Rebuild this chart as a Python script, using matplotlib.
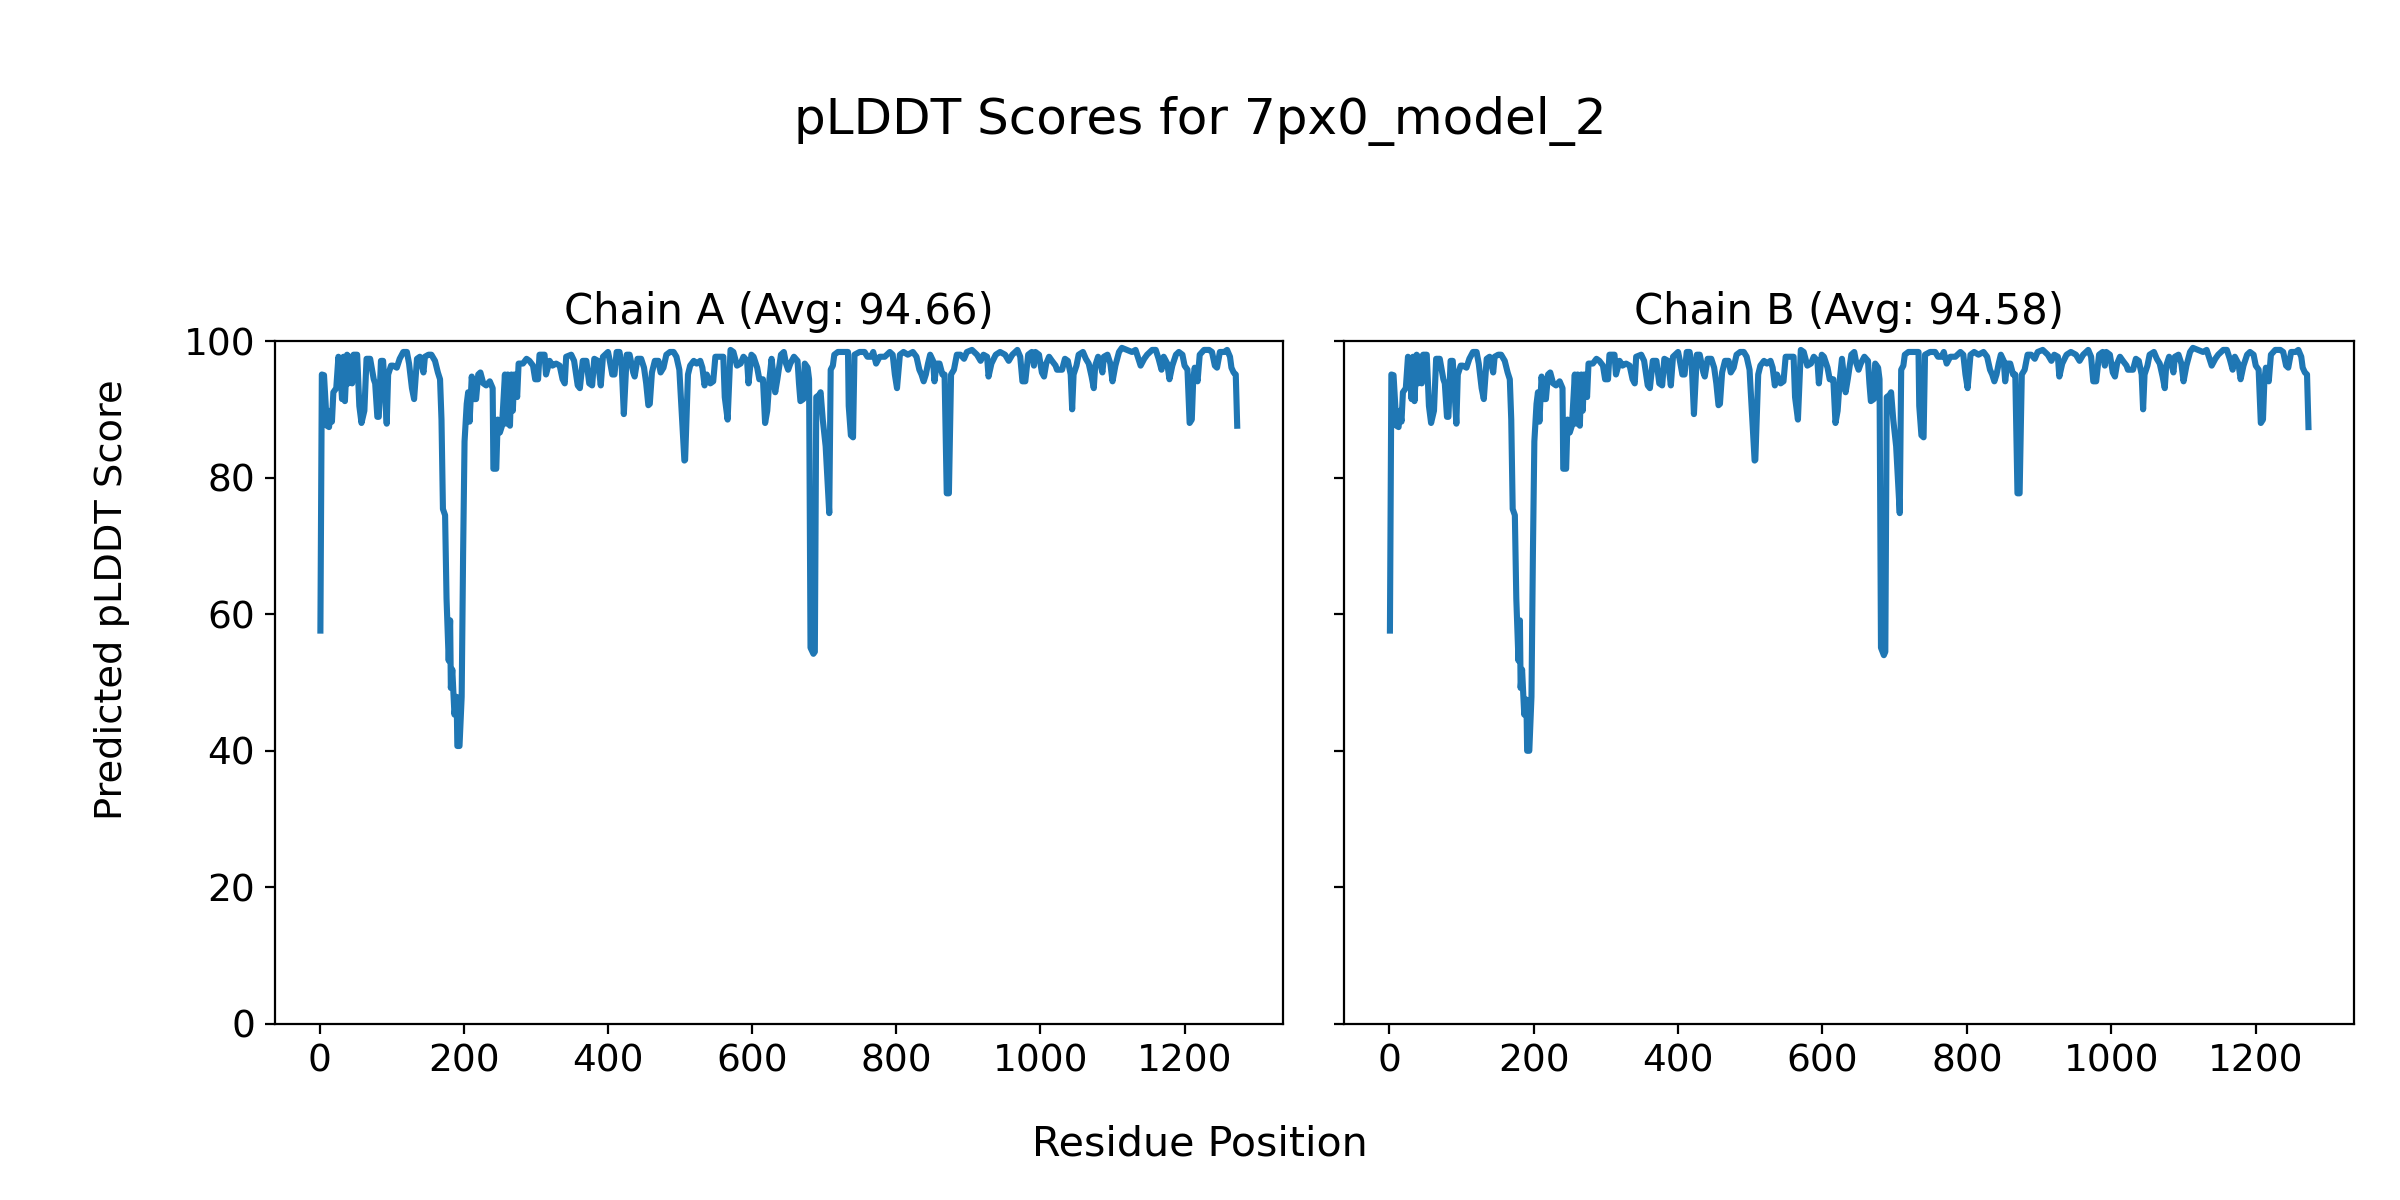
import matplotlib
matplotlib.use("Agg")
import matplotlib.pyplot as plt

MODEL = "7px0_model_2"
CHAINS = ["A", "B"]
AVGS = [94.66, 94.58]

RES = [
    1, 3, 6, 10, 13, 15, 17, 19, 23, 26, 29, 31, 33, 35, 38, 40, 42, 45, 47, 52,
    55, 58, 62, 65, 70, 75, 77, 80, 82, 85, 88, 93, 95, 99, 102, 107, 111, 116, 121, 124,
    128, 131, 135, 139, 144, 146, 151, 155, 160, 164, 167, 169, 171, 174, 176, 179, 181, 182, 184, 187,
    190, 191, 194, 197, 199, 201, 204, 206, 208, 211, 214, 217, 220, 223, 227, 231, 236, 240, 241, 245,
    247, 250, 253, 257, 259, 261, 264, 266, 268, 270, 274, 276, 282, 287, 291, 296, 299, 303, 305, 312,
    314, 319, 323, 328, 333, 337, 340, 342, 349, 353, 358, 361, 365, 370, 374, 378, 381, 386, 390, 393,
    400, 402, 406, 409, 412, 416, 419, 422, 426, 430, 435, 437, 441, 446, 450, 453, 456, 458, 461, 465,
    470, 473, 477, 481, 486, 491, 495, 499, 502, 506, 507, 511, 514, 519, 523, 528, 531, 534, 537, 542,
    546, 549, 553, 560, 562, 566, 570, 574, 579, 584, 588, 593, 595, 599, 602, 607, 610, 615, 618, 621,
    624, 627, 632, 635, 640, 644, 647, 650, 653, 658, 663, 665, 667, 671, 673, 677, 679, 681, 685, 687,
    689, 693, 695, 698, 700, 702, 707, 709, 712, 714, 719, 726, 733, 734, 737, 740, 742, 749, 756, 760,
    765, 768, 772, 777, 784, 791, 795, 798, 801, 805, 810, 816, 823, 828, 832, 835, 838, 841, 844, 847,
    851, 853, 856, 860, 864, 867, 870, 873, 876, 880, 884, 889, 894, 898, 905, 912, 917, 921, 926, 928,
    932, 938, 944, 951, 956, 961, 968, 972, 975, 979, 983, 988, 991, 993, 998, 1002, 1005, 1008, 1012, 1016,
    1021, 1023, 1026, 1030, 1034, 1038, 1042, 1044, 1046, 1050, 1053, 1059, 1063, 1067, 1071, 1074, 1076, 1080, 1083, 1086,
    1088, 1093, 1097, 1100, 1104, 1109, 1113, 1120, 1127, 1132, 1136, 1139, 1144, 1148, 1155, 1160, 1164, 1168, 1171, 1176,
    1179, 1183, 1188, 1192, 1197, 1200, 1204, 1207, 1210, 1212, 1214, 1218, 1221, 1227, 1234, 1238, 1242, 1245, 1249, 1255,
    1259, 1263, 1265, 1268, 1271, 1273,
]

PLDDT_A = [
    57.6, 95.1, 95.0, 87.6, 87.4, 89.8, 88.2, 92.5, 93.1, 97.7, 95.1, 91.5, 97.7, 91.2, 98.0, 93.8, 97.7, 93.8, 98.0, 98.0,
    90.5, 88.0, 89.8, 97.4, 97.4, 94.4, 93.8, 88.9, 88.9, 97.1, 97.1, 87.9, 95.1, 96.4, 96.4, 96.1, 97.4, 98.4, 98.4, 96.7,
    93.1, 91.5, 97.4, 97.7, 95.4, 97.7, 98.0, 98.0, 97.1, 95.4, 94.4, 88.5, 75.4, 74.5, 62.3, 53.2, 59.1, 49.2, 51.9, 45.3,
    47.9, 40.7, 40.7, 47.9, 68.9, 85.3, 90.8, 92.5, 88.2, 94.8, 91.5, 91.5, 95.1, 95.4, 93.8, 93.5, 94.1, 93.1, 81.3, 81.3,
    88.5, 86.6, 87.6, 95.1, 87.9, 95.1, 87.6, 95.1, 89.8, 95.1, 91.8, 96.7, 96.7, 97.4, 97.1, 96.4, 94.4, 94.4, 98.0, 98.0,
    95.1, 97.1, 96.4, 96.7, 96.4, 94.4, 93.8, 97.7, 98.0, 97.1, 93.5, 93.1, 97.1, 97.1, 93.8, 93.5, 97.4, 97.1, 93.5, 97.7,
    98.4, 97.4, 95.1, 95.1, 98.4, 98.4, 96.4, 89.3, 98.0, 98.0, 95.4, 94.8, 97.4, 97.4, 96.1, 93.8, 90.6, 90.8, 95.4, 97.1,
    97.1, 95.4, 96.1, 98.0, 98.4, 98.4, 97.7, 95.8, 90.2, 82.5, 82.6, 95.1, 96.4, 97.1, 96.7, 97.1, 96.1, 93.5, 95.1, 93.8,
    94.1, 97.7, 97.7, 97.7, 91.8, 88.5, 98.7, 98.4, 96.4, 96.7, 97.7, 97.1, 93.8, 98.0, 97.7, 96.1, 94.4, 94.4, 88.0, 89.8,
    94.4, 97.4, 92.5, 94.4, 98.0, 98.4, 96.7, 95.8, 96.7, 97.7, 97.1, 93.8, 91.2, 91.5, 96.7, 96.1, 94.4, 55.1, 54.2, 54.5,
    91.8, 92.1, 92.5, 88.5, 86.6, 84.6, 74.8, 95.8, 96.4, 98.0, 98.4, 98.4, 98.4, 90.5, 86.2, 85.9, 98.0, 98.4, 98.4, 97.7,
    97.7, 98.4, 96.7, 97.7, 97.7, 98.4, 98.0, 95.1, 93.1, 98.0, 98.4, 98.0, 98.4, 97.7, 95.8, 95.1, 94.1, 95.1, 96.7, 98.0,
    97.1, 94.1, 96.7, 96.7, 95.1, 95.1, 77.7, 77.7, 95.1, 95.8, 98.0, 98.0, 97.4, 98.4, 98.7, 98.0, 97.1, 98.0, 97.7, 94.8,
    96.7, 98.0, 98.4, 98.0, 97.1, 98.0, 98.7, 97.7, 94.1, 94.1, 98.0, 98.4, 96.4, 98.4, 98.0, 95.4, 94.8, 96.7, 97.7, 97.1,
    96.4, 95.8, 95.8, 95.8, 97.4, 97.1, 95.1, 90.0, 95.1, 96.4, 98.0, 98.4, 97.4, 96.7, 94.8, 93.1, 96.4, 97.7, 96.7, 95.4,
    97.7, 98.0, 96.7, 94.1, 96.4, 98.4, 99.0, 98.7, 98.4, 98.7, 97.4, 96.4, 97.4, 98.0, 98.7, 98.7, 97.4, 95.8, 97.7, 96.7,
    94.4, 96.4, 98.0, 98.4, 98.0, 96.4, 95.8, 88.0, 88.5, 94.4, 96.1, 94.1, 98.0, 98.7, 98.7, 98.4, 96.4, 96.1, 98.4, 98.4,
    98.7, 97.7, 96.1, 95.4, 95.1, 87.6,
]

# chain B is nearly the same; only the points that visibly differ are listed
B_DIFFS = {190: 47.5, 191: 40.0, 194: 40.0, 685: 54.0, 1273: 87.4}
PLDDT_B = [B_DIFFS.get(r, v) for r, v in zip(RES, PLDDT_A)]

fig = plt.figure(figsize=(12, 6), dpi=200)
ax_a = fig.add_axes([0.1144, 0.1467, 0.4202, 0.5691])
ax_b = fig.add_axes([0.5600, 0.1467, 0.4210, 0.5691], sharey=ax_a)

for ax, chain, avg, scores in zip([ax_a, ax_b], CHAINS, AVGS, [PLDDT_A, PLDDT_B]):
    ax.plot(RES, scores, color="#1f77b4", linewidth=2.2)
    ax.set_title(f"Chain {chain} (Avg: {avg:.2f})", fontsize=15)
    ax.set_ylim(0, 100)
    ax.set_xticks([0, 200, 400, 600, 800, 1000, 1200])
    ax.tick_params(labelsize=13.5)

ax_b.tick_params(labelleft=False)

fig.suptitle(f"pLDDT Scores for {MODEL}", fontsize=18, y=0.92)
fig.supxlabel("Residue Position", fontsize=14.8, y=0.03)
fig.supylabel("Predicted pLDDT Score", fontsize=13.8, x=0.039)

fig.savefig("out.png", dpi=200)
